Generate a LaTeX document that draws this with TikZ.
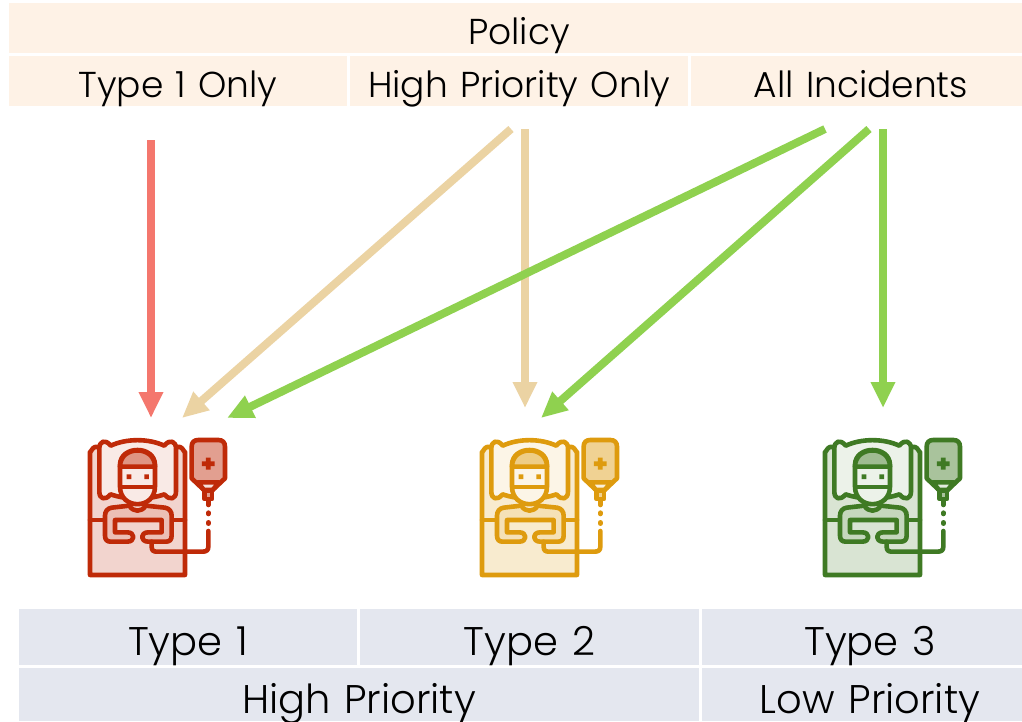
\documentclass[tikz,border=0pt]{standalone}
\usepackage{fontspec}
\setmainfont{Poppins Light}[WordSpace=1.25]
\definecolor{hdr}{HTML}{FEF2E6}
\definecolor{ftr}{HTML}{E4E7EF}
\definecolor{redarrow}{HTML}{F4776D}
\definecolor{tanarrow}{HTML}{EBD3A3}
\definecolor{greenarrow}{HTML}{8FD14F}
\definecolor{redicon}{HTML}{BF2A08}
\definecolor{yellowicon}{HTML}{DE9B0E}
\definecolor{greenicon}{HTML}{3F7A24}
\usetikzlibrary{arrows.meta}
\tikzset{
  x=1pt,y=-1pt,
  cell/.style={anchor=north west,inner sep=0pt,outer sep=0pt,align=center,text=black},
  hcell/.style={cell,fill=hdr,font=\fontsize{36}{36}\selectfont,text height=#1,text depth=50pt-#1,minimum height=50pt},
  fcell/.style={cell,fill=ftr,font=\fontsize{40}{40}\selectfont},
  flow/.style={line width=8pt,draw=#1,-{Triangle[length=26pt,width=23pt,fill=#1]}},
  iconline/.style={draw=#1,line width=4.6pt,line join=round,line cap=round},
}
\newcommand{\patient}[3]{%
\begin{scope}[shift={(#1,#2)},x=0.3333pt,y=-0.3333pt]
  % bed
  \path[iconline=#3,fill=#3!20!white] (60,450) -- (60,80) to[out=-90,in=180] (75,66) -- (330,66) to[out=0,in=-90] (345,80) -- (345,450) -- cycle;
  \path[iconline=#3] (60,285) -- (345,285);
  % pillow
  \path[iconline=#3,fill=#3!10!white] (88,70) .. controls (88,50) and (105,40) .. (122,62) .. controls (170,40) and (235,40) .. (283,62) .. controls (300,40) and (318,50) .. (318,70) -- (318,200) .. controls (318,222) and (300,228) .. (283,208) .. controls (235,225) and (170,225) .. (122,208) .. controls (105,228) and (88,222) .. (88,200) -- cycle;
  % head
  \path[iconline=#3,fill=#3!10!white] (150,120) .. controls (150,60) and (255,60) .. (255,120) -- (255,185) .. controls (255,255) and (150,255) .. (150,185) -- cycle;
  \path[iconline=#3,fill=#3!50!white] (150,125) .. controls (150,60) and (255,60) .. (255,125) -- cycle;
  \path[iconline=#3] (152,186) -- (253,186);
  \path[fill=#3,draw=none] (170,148) rectangle (184,162) (223,148) rectangle (237,162);
  % body
  \path[iconline=#3,fill=#3!30!white] (178,242) .. controls (190,262) and (215,262) .. (227,242) -- (285,248) .. controls (298,250) and (305,260) .. (305,272) -- (305,332) .. controls (305,345) and (298,350) .. (288,350) -- (235,350) .. controls (210,350) and (210,322) .. (235,322) -- (275,322) -- (275,285) -- (135,285) -- (135,322) -- (172,322) .. controls (196,322) and (196,350) .. (172,350) -- (122,350) .. controls (112,350) and (105,345) .. (105,332) -- (105,272) .. controls (105,260) and (112,250) .. (125,248) -- cycle;
  % tube
  \path[iconline=#3] (245,350) -- (245,365) .. controls (245,376) and (250,380) .. (260,380) -- (398,380) .. controls (410,380) and (415,375) .. (415,365) -- (415,318);
  \path[iconline=#3] (415,292) -- (415,296);
  \path[iconline=#3] (415,263) -- (415,267);
  \path[iconline=#3] (415,225) -- (415,240);
  % bag
  \path[iconline=#3,fill=#3!45!white] (365,65) .. controls (365,52) and (372,45) .. (385,45) -- (445,45) .. controls (458,45) and (465,52) .. (465,65) -- (465,160) -- (428,195) -- (402,195) -- (365,160) -- cycle;
  \path[iconline=#3,fill=#3!15!white] (383,172) -- (447,172) -- (428,195) -- (402,195) -- cycle;
  \path[iconline=#3,fill=#3!45!white] (404,197) rectangle (426,222);
  \path[fill=#3,draw=none] (408,98) rectangle (422,134) (396,109) rectangle (434,123);
\end{scope}}
\begin{document}
\begin{tikzpicture}
\useasboundingbox (0,0) rectangle (1022,721);
\clip (0,0) rectangle (1022,721);
% header
\node[hcell=41pt,minimum width=1020pt] (policy) at (9,3) {Policy};
\node[hcell=41pt,minimum width=338pt] (h1) at (9,56) {Type 1 Only};
\node[hcell=41pt,minimum width=338pt] (h2) at (350,56) {High Priority Only};
\node[hcell=41pt,minimum width=340pt] (h3) at (691,56) {All Incidents};
% footer
\node[fcell,minimum width=338pt,minimum height=56pt,text height=46pt,text depth=10pt] (t1) at (19,609) {Type 1};
\node[fcell,minimum width=339pt,minimum height=56pt,text height=46pt,text depth=10pt] (t2) at (360,609) {Type 2};
\node[fcell,minimum width=336pt,minimum height=56pt,text height=46pt,text depth=10pt] (t3) at (702,609) {Type 3};
\node[fcell,minimum width=680pt,minimum height=53pt,text height=45pt,text depth=8pt] (hp) at (19,668) {High Priority};
\node[fcell,minimum width=336pt,minimum height=53pt,text height=45pt,text depth=8pt] (lp) at (702,668) {Low Priority};
% icons
\patient{70}{425}{redicon}
\patient{462}{425}{yellowicon}
\patient{805}{425}{greenicon}
% connector ends
\coordinate (r0) at (151,140); \coordinate (r1) at (151,418);
\coordinate (a0) at (511,129); \coordinate (a1) at (182,418);
\coordinate (b0) at (525,129); \coordinate (b1) at (525,408);
\coordinate (c0) at (825,129); \coordinate (c1) at (227,418);
\coordinate (d0) at (869,129); \coordinate (d1) at (541,418);
\coordinate (e0) at (883,129); \coordinate (e1) at (883,408);
\draw[flow=redarrow] (r0) -- (r1);
\draw[flow=tanarrow] (a0) -- (a1);
\draw[flow=tanarrow] (b0) -- (b1);
\draw[flow=greenarrow] (c0) -- (c1);
\draw[flow=greenarrow] (d0) -- (d1);
\draw[flow=greenarrow] (e0) -- (e1);
\end{tikzpicture}
\end{document}
